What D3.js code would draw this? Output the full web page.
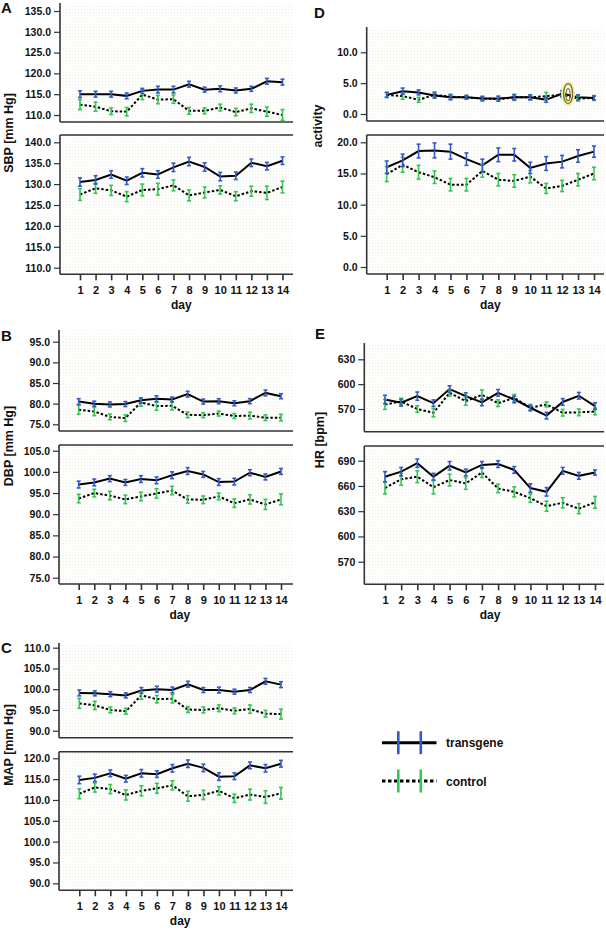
<!DOCTYPE html>
<html><head><meta charset="utf-8">
<script src="https://cdn.jsdelivr.net/npm/d3@7"></script>
<style>
html,body{margin:0;padding:0;background:#fff;}
svg{display:block;font-family:"Liberation Sans",Arial,sans-serif;font-weight:bold;}
</style></head><body>
<svg id="c" width="606" height="930"></svg>
<script>
const days = [1,2,3,4,5,6,7,8,9,10,11,12,13,14];
const seriesNames = ["transgene","control"];

// SBP
const sbpTopTicks = [110,115,120,125,130,135];
const sbpBotTicks = [110,115,120,125,130,135,140];
const sbpLightTg = [115.0,115.0,115.0,114.6,115.8,116.1,116.1,117.4,116.1,116.3,115.9,116.3,118.1,117.9];
const sbpLightTgErr = [0.8,0.7,0.7,0.7,0.6,0.8,0.8,0.7,0.6,0.7,0.6,0.6,0.7,0.7];
const sbpLightCt = [112.5,112.0,110.9,110.8,114.9,113.7,113.8,111.0,111.0,111.8,110.7,111.6,110.8,110.0];
const sbpLightCtErr = [1.2,1.1,0.8,1.0,1.2,1.0,1.0,0.8,0.7,0.8,0.9,1.0,1.1,1.3];
const sbpDarkTg = [130.5,131.0,132.3,130.8,132.7,132.3,134.0,135.4,134.1,131.8,132.0,135.1,134.3,135.6];
const sbpDarkTgErr = [1.0,1.0,0.9,0.9,1.0,0.9,1.0,1.0,1.0,1.0,0.9,0.9,0.9,0.9];
const sbpDarkCt = [127.5,129.0,128.5,127.0,128.6,128.8,129.7,127.3,128.0,128.6,127.1,128.3,127.9,129.3];
const sbpDarkCtErr = [1.4,1.2,1.2,1.2,1.4,1.4,1.3,1.3,1.3,1.0,1.1,1.2,1.6,1.4];

// DBP
const dbpTopTicks = [75,80,85,90,95];
const dbpBotTicks = [75,80,85,90,95,100,105];
const dbpLightTg = [80.5,80.0,79.8,79.9,80.8,81.2,81.0,82.3,80.5,80.6,80.1,80.6,82.6,81.8];
const dbpLightTgErr = [0.7,0.6,0.6,0.6,0.6,0.7,0.6,0.7,0.6,0.6,0.6,0.6,0.7,0.6];
const dbpLightCt = [78.5,78.1,76.8,76.5,80.3,79.4,79.5,77.3,77.2,77.6,77.0,77.1,76.6,76.6];
const dbpLightCtErr = [1.1,1.0,0.7,0.8,0.9,1.0,1.0,0.7,0.6,0.6,0.6,0.8,0.7,0.8];
const dbpDarkTg = [97.0,97.5,98.4,97.5,98.3,98.0,99.2,100.2,99.4,97.6,97.7,99.8,98.8,100.1];
const dbpDarkTgErr = [0.8,0.8,0.7,0.7,0.8,0.8,0.8,0.8,0.7,0.8,0.8,0.7,0.7,0.7];
const dbpDarkCt = [93.7,95.0,94.4,93.5,94.2,94.9,95.6,93.5,93.4,94.2,92.6,93.5,92.3,93.5];
const dbpDarkCtErr = [1.0,0.9,1.0,1.0,1.0,1.1,1.0,0.9,0.9,0.8,1.0,1.1,1.2,1.3];

// MAP
const mapTopTicks = [90,95,100,105,110];
const mapBotTicks = [90,95,100,105,110,115,120];
const mapLightTg = [99.1,99.0,98.8,98.5,99.7,100.0,99.8,101.2,99.8,99.8,99.4,99.8,101.9,101.1];
const mapLightTgErr = [0.7,0.6,0.6,0.6,0.7,0.7,0.7,0.7,0.6,0.7,0.6,0.6,0.7,0.7];
const mapLightCt = [96.6,96.1,95.0,94.7,98.5,97.6,97.7,95.1,95.0,95.4,94.8,95.2,94.1,94.0];
const mapLightCtErr = [1.2,1.0,0.7,0.7,0.9,0.9,1.0,0.7,0.7,0.8,0.7,1.0,0.8,1.2];
const mapDarkTg = [114.8,115.3,116.4,115.1,116.4,116.2,117.6,118.7,117.7,115.6,115.7,118.3,117.6,118.7];
const mapDarkTgErr = [0.9,0.9,0.8,0.8,0.9,0.8,0.9,0.9,0.9,0.9,0.8,0.8,0.9,0.8];
const mapDarkCt = [111.5,113.0,112.6,111.2,112.2,112.8,113.5,110.9,111.2,112.2,110.4,111.3,110.7,111.6];
const mapDarkCtErr = [1.2,1.1,1.1,1.2,1.2,1.2,1.1,1.2,1.1,1.0,1.0,1.3,1.5,1.4];

// activity
const actTopTicks = [0,5,10];
const actBotTicks = [0,5,10,15,20];
const actLightTg = [3.1,3.7,3.5,3.0,2.7,2.7,2.5,2.5,2.7,2.7,2.3,3.3,2.7,2.6];
const actLightTgErr = [0.4,0.5,0.4,0.4,0.4,0.3,0.3,0.4,0.4,0.4,0.4,0.5,0.4,0.3];
const actLightCt = [3.1,2.9,2.3,3.1,2.8,2.7,2.5,2.4,2.7,2.7,2.9,3.1,2.5,2.6];
const actLightCtErr = [0.4,0.5,0.4,0.5,0.4,0.3,0.4,0.3,0.5,0.4,0.6,0.4,0.4,0.4];
const actDarkTg = [16.0,17.1,18.6,18.7,18.5,17.3,16.3,18.0,18.0,15.9,16.6,16.9,17.8,18.5];
const actDarkTgErr = [1.0,1.0,1.1,1.2,1.2,1.0,1.0,1.1,1.0,0.9,1.1,1.0,1.0,0.9];
const actDarkCt = [14.9,16.4,15.2,14.4,13.2,13.2,15.4,14.0,13.8,14.5,12.6,13.0,14.0,15.0];
const actDarkCtErr = [1.2,1.2,1.1,1.0,1.0,1.0,1.0,1.0,1.0,1.0,0.8,0.9,1.0,1.0];

// HR
const hrTopTicks = [570,600,630];
const hrBotTicks = [570,600,630,660,690];
const hrLightTg = [581.5,577.5,585.5,577,594,585.5,578,589.5,581.5,571.5,562,578.5,586,573.5];
const hrLightTgErr = [5,4,5,4,4,4,4,4,4,3,4,4,4,4];
const hrLightCt = [575.5,579,570,565.5,589.5,579.5,587,577,583.5,571.5,575.5,565.5,566,567];
const hrLightCtErr = [6,4,4,5,4,5,6,4,4,4,3,4,4,4];
const hrDarkTg = [671,677,687,671,684,676,685,686,679,657.5,653,678,672,676];
const hrDarkTgErr = [6,5,5,4,5,4,4,4,4,5,5,4,4,3];
const hrDarkCt = [657.5,668,671,658.5,667,663,676,657,653,645.5,636,640,633,640.5];
const hrDarkCtErr = [7,7,7,8,7,7,6,5,6,5,6,6,6,7];

const BLUE = "#3558c6", GREEN = "#33c653", AX = "#333";
const svg = d3.select("#c");
const defs = svg.append("defs");
const pat = defs.append("pattern").attr("id","dots").attr("width",3).attr("height",3).attr("patternUnits","userSpaceOnUse");
pat.append("rect").attr("width",3).attr("height",3).attr("fill","#fefefd");
pat.append("rect").attr("width",1).attr("height",1).attr("fill","#efefea");

function drawSeries(x, y, vals, errs, color, dashed) {
  const line = d3.line().x((d,i)=>x(days[i])).y(d=>y(d));
  svg.append("path").datum(vals).attr("d",line).attr("fill","none")
    .attr("stroke","#000").attr("stroke-width",2)
    .attr("stroke-dasharray", dashed ? "2.5,2" : null);
  return () => {
    const g = svg.append("g").attr("stroke",color).attr("stroke-width",1.6);
    vals.forEach((v,i)=>{
      const cx = x(days[i]), y0 = y(v-errs[i]), y1 = y(v+errs[i]);
      g.append("line").attr("x1",cx).attr("x2",cx).attr("y1",y0).attr("y2",y1);
      g.append("line").attr("x1",cx-2).attr("x2",cx+2).attr("y1",y0).attr("y2",y0);
      g.append("line").attr("x1",cx-2).attr("x2",cx+2).attr("y1",y1).attr("y2",y1);
    });
  };
}

function section(o) {
  const y = d3.scaleLinear().domain([o.ticks[0], o.ticks[o.ticks.length-1]]).range(o.tickPx);
  svg.append("rect").attr("x",o.left+1).attr("y",o.top).attr("width",o.right-o.left-1).attr("height",o.bottom-o.top).attr("fill","url(#dots)");
  const gy = svg.append("g").attr("transform",`translate(${o.left},0)`)
    .call(d3.axisLeft(y).tickValues(o.ticks).tickFormat(d3.format(o.fmt)).tickSize(6).tickPadding(3));
  gy.attr("font-family",null).attr("font-size",10.5).attr("font-weight","bold");
  gy.select(".domain").remove();
  gy.selectAll(".tick line").attr("stroke",AX).attr("stroke-width",1.2);
  gy.selectAll("text").attr("fill","#111");
  svg.append("line").attr("x1",o.left).attr("x2",o.left).attr("y1",o.top).attr("y2",o.bottom).attr("stroke",AX).attr("stroke-width",1.6);
  svg.append("line").attr("x1",o.left).attr("x2",o.right).attr("y1",o.bottom).attr("y2",o.bottom).attr("stroke",AX).attr("stroke-width",1.6);
  if (o.topBorder) svg.append("line").attr("x1",o.left).attr("x2",o.right).attr("y1",o.top).attr("y2",o.top).attr("stroke",AX).attr("stroke-width",1.6);
  if (o.xAxis) {
    const gx = svg.append("g").attr("transform",`translate(0,${o.bottom})`)
      .call(d3.axisBottom(o.x).tickValues(days).tickFormat(d3.format("d")).tickSize(6).tickPadding(6));
    gx.attr("font-family",null).attr("font-size",11).attr("font-weight","bold");
    gx.select(".domain").remove();
    gx.selectAll(".tick line").attr("stroke",AX).attr("stroke-width",1.6);
    gx.selectAll("text").attr("fill","#111");
    svg.append("text").attr("x",(o.x(days[0])+o.x(days[13]))/2).attr("y",o.bottom+35)
      .attr("text-anchor","middle").attr("font-size",12).attr("fill","#111").text("day");
  }
  const e1 = drawSeries(o.x, y, o.ct, o.ctE, GREEN, true);
  const e2 = drawSeries(o.x, y, o.tg, o.tgE, BLUE, false);
  e1(); e2();
  return y;
}

function panel(p) {
  const x = d3.scaleLinear().domain([days[0], days[13]]).range(p.xr);
  const yt = section({x, left:p.left, right:p.right, top:p.top[0], bottom:p.top[1], ticks:p.top[2], tickPx:p.top[3], fmt:p.fmt,
    tg:p.lt, tgE:p.ltE, ct:p.lc, ctE:p.lcE, xAxis:false, topBorder:false});
  section({x, left:p.left, right:p.right, top:p.bot[0], bottom:p.bot[1], ticks:p.bot[2], tickPx:p.bot[3], fmt:p.fmt,
    tg:p.dt, tgE:p.dtE, ct:p.dc, ctE:p.dcE, xAxis:true, topBorder:true});
  svg.append("text").attr("x",p.letter[0]).attr("y",p.letter[1]).attr("font-size",15).attr("fill","#111").text(p.name);
  svg.append("text").attr("transform",`translate(${p.title[0]},${p.title[1]}) rotate(-90)`)
    .attr("text-anchor","middle").attr("font-size",12.5).attr("fill","#111").text(p.label);
  return {x, yt};
}

panel({name:"A", label:"SBP [mm Hg]", letter:[1,13], title:[13,133], left:60, right:293, xr:[80,282.5], fmt:".1f",
  top:[3,122,sbpTopTicks,[115,11]], bot:[135,274.3,sbpBotTicks,[267.7,142.3]],
  lt:sbpLightTg, ltE:sbpLightTgErr, lc:sbpLightCt, lcE:sbpLightCtErr,
  dt:sbpDarkTg, dtE:sbpDarkTgErr, dc:sbpDarkCt, dcE:sbpDarkCtErr});
panel({name:"B", label:"DBP [mm Hg]", letter:[1,341], title:[13,446], left:59, right:293, xr:[78.7,281], fmt:".1f",
  top:[330,431,dbpTopTicks,[424.3,341.7]], bot:[445,584,dbpBotTicks,[577.7,450.7]],
  lt:dbpLightTg, ltE:dbpLightTgErr, lc:dbpLightCt, lcE:dbpLightCtErr,
  dt:dbpDarkTg, dtE:dbpDarkTgErr, dc:dbpDarkCt, dcE:dbpDarkCtErr});
panel({name:"C", label:"MAP [mm Hg]", letter:[1,653], title:[13,745], left:59, right:293, xr:[79.3,281], fmt:".1f",
  top:[643,737.7,mapTopTicks,[730.7,647.7]], bot:[751.7,890.3,mapBotTicks,[883.3,758.3]],
  lt:mapLightTg, ltE:mapLightTgErr, lc:mapLightCt, lcE:mapLightCtErr,
  dt:mapDarkTg, dtE:mapDarkTgErr, dc:mapDarkCt, dcE:mapDarkCtErr});
const pD = panel({name:"D", label:"activity", letter:[314,18], title:[322,126], left:366.7, right:604, xr:[386.7,594], fmt:".1f",
  top:[27,121,actTopTicks,[114,52.3]], bot:[135,274,actBotTicks,[267,142.3]],
  lt:actLightTg, ltE:actLightTgErr, lc:actLightCt, lcE:actLightCtErr,
  dt:actDarkTg, dtE:actDarkTgErr, dc:actDarkCt, dcE:actDarkCtErr});
panel({name:"E", label:"HR [bpm]", letter:[315,339], title:[324,440], left:364.3, right:604, xr:[385,595], fmt:"d",
  top:[343,431.7,hrTopTicks,[409,359.3]], bot:[446,584.3,hrBotTicks,[561.7,460.7]],
  lt:hrLightTg, ltE:hrLightTgErr, lc:hrLightCt, lcE:hrLightCtErr,
  dt:hrDarkTg, dtE:hrDarkTgErr, dc:hrDarkCt, dcE:hrDarkCtErr});

// annotation oval in D (day 12)
{
  const cx = pD.x(days[11]) + 6, cy = pD.yt(actLightTg[11]);
  svg.append("ellipse").attr("cx",cx).attr("cy",cy).attr("rx",5).attr("ry",10.5).attr("fill","none").attr("stroke","#f3efa8").attr("stroke-width",4);
  svg.append("ellipse").attr("cx",cx).attr("cy",cy).attr("rx",4.5).attr("ry",10).attr("fill","none").attr("stroke","#77702a").attr("stroke-width",1.3);
  svg.append("ellipse").attr("cx",cx).attr("cy",cy+1).attr("rx",2).attr("ry",6).attr("fill","none").attr("stroke","#77702a").attr("stroke-width",1.1);
}

// legend
const legend = [
  {name: seriesNames[0], color: BLUE, dashed: false, y: 742.7},
  {name: seriesNames[1], color: GREEN, dashed: true, y: 781}
];
legend.forEach(l=>{
  svg.append("line").attr("x1",382).attr("x2",436.5).attr("y1",l.y).attr("y2",l.y)
    .attr("stroke","#000").attr("stroke-width",3).attr("stroke-dasharray", l.dashed ? "3.5,2.5" : null);
  [398.3,420.8].forEach(xx=>svg.append("line").attr("x1",xx).attr("x2",xx).attr("y1",l.y-11.5).attr("y2",l.y+11.5)
    .attr("stroke",l.color).attr("stroke-width",2.6));
  svg.append("text").attr("x",446).attr("y",l.y+4.5).attr("font-size",12).attr("fill","#111").text(l.name);
});
</script>
</body></html>
